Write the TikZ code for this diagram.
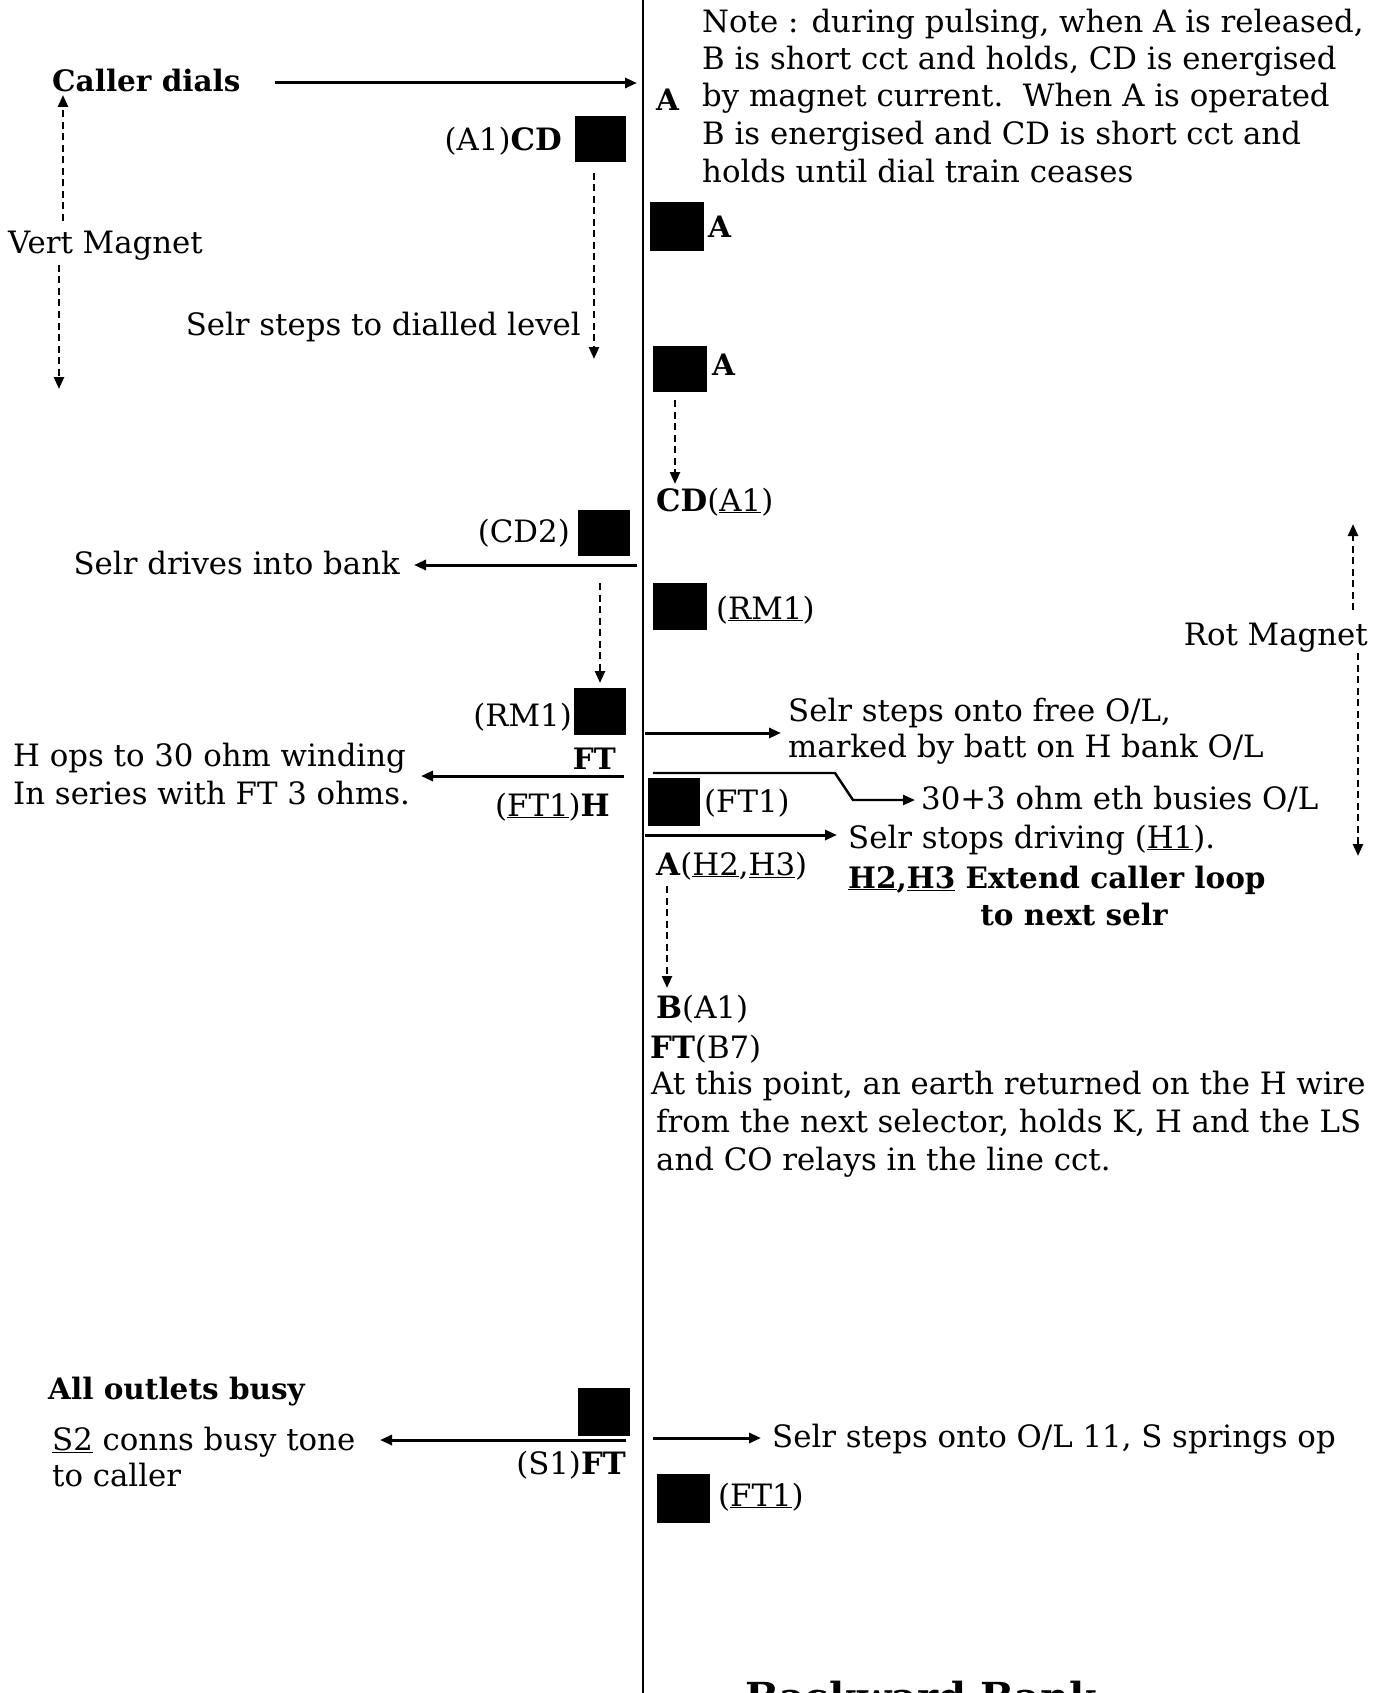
\documentclass[tikz,border=0pt]{standalone}
\usepackage{fontspec}
\setmainfont{DejaVu Serif}
\usetikzlibrary{arrows.meta}
\newcommand{\fs}{\fontsize{30.8}{37.5}\selectfont}
\newcommand{\fsb}{\fontsize{29.5}{37.5}\selectfont\bfseries}
\tikzset{
  relay/.style={fill=black,draw=none},
  txt/.style={inner sep=0pt,font=\fs},
  btxt/.style={inner sep=0pt,font=\fsb},
  conn/.style={line width=3pt,-{Triangle[length=12pt,width=10pt]}},
  dconn/.style={line width=2.4pt,dash pattern=on 7pt off 4.5pt,-{Triangle[length=12pt,width=10pt]}},
}
\begin{document}
\begin{tikzpicture}[x=1pt,y=-1pt]
\useasboundingbox (0,0) rectangle (1389,1693);
\clip (0,0) rectangle (1389,1693);
\fill[white] (0,0) rectangle (1389,1693);
% main vertical line
\coordinate (vtop) at (643,0);
\coordinate (vbot) at (643,1693);
\draw[line width=2.8pt] (vtop) -- (vbot);

% ---- top ----
\node[btxt,anchor=base west] (caller) at (52,92) {Caller dials};
\coordinate (c1s) at (275,83); \coordinate (c1e) at (637,83);
\draw[conn] (c1s) -- (c1e);
\node[btxt,anchor=base west] (aop) at (656,111) {A};
\node[txt,anchor=base west] (note1) at (702,33) {Note : during pulsing, when A is released,};
\node[txt,anchor=base west] (note2) at (702,70) {B is short cct and holds, CD is energised};
\node[txt,anchor=base west] (note3) at (702,107) {by magnet current.\ \ When A is operated};
\node[txt,anchor=base west] (note4) at (702,145) {B is energised and CD is short cct and};
\node[txt,anchor=base west] (note5) at (702,183) {holds until dial train ceases};

\node[txt,anchor=base east] (a1cd) at (562,151) {(A1)\textbf{CD}};
\path[relay] (575,116) rectangle (626,162) node[midway] (cdbox) {};
\coordinate (d1s) at (594,173); \coordinate (d1e) at (594,359);
\draw[dconn] (d1s) -- (d1e);
\node[txt,anchor=base east] (steps) at (581,335) {Selr steps to dialled level};

\node[txt,anchor=base west] (vert) at (8,254) {Vert Magnet};
\coordinate (vm1s) at (63,221); \coordinate (vm1e) at (63,95);
\coordinate (vm2s) at (59,265); \coordinate (vm2e) at (59,389);
\draw[dconn] (vm1s) -- (vm1e);
\draw[dconn] (vm2s) -- (vm2e);

\path[relay] (650,202) rectangle (704,251) node[midway] (abox1) {};
\node[btxt,anchor=base west] (alab1) at (708,238) {A};
\path[relay] (653,346) rectangle (707,392) node[midway] (abox2) {};
\node[btxt,anchor=base west] (alab2) at (712,375) {A};
\coordinate (d2s) at (675,400); \coordinate (d2e) at (675,484);
\draw[dconn] (d2s) -- (d2e);
\node[txt,anchor=base west] (cda1) at (656,511) {\textbf{CD}(\underline{A1})};

% ---- middle left ----
\path[relay] (578,510) rectangle (630,556) node[midway] (cd2box) {};
\node[txt,anchor=base east] (cd2) at (570,542) {(CD2)};
\coordinate (a3s) at (637,565); \coordinate (a3e) at (414,565);
\draw[conn] (a3s) -- (a3e);
\node[txt,anchor=base east] (drives) at (400,574) {Selr drives into bank};
\coordinate (d3s) at (600,583); \coordinate (d3e) at (600,683);
\draw[dconn] (d3s) -- (d3e);
\path[relay] (574,688) rectangle (626,735) node[midway] (rm1box) {};
\node[txt,anchor=base east] (rm1l) at (572,726) {(RM1)};
\node[btxt,anchor=base east] (ftl) at (616,769) {FT};
\coordinate (a4s) at (624,776); \coordinate (a4e) at (421,776);
\draw[conn] (a4s) -- (a4e);
\node[txt,anchor=base west] (hops1) at (13,766) {H ops to 30 ohm winding};
\node[txt,anchor=base west] (hops2) at (13,804) {In series with FT 3 ohms.};
\node[txt,anchor=base east] (ft1h) at (610,816) {(\underline{FT1})\textbf{H}};

% ---- middle right ----
\path[relay] (653,583) rectangle (707,630) node[midway] (rm1rbox) {};
\node[txt,anchor=base west] (rm1r) at (716,619) {(\underline{RM1})};
\node[txt,anchor=base east] (rot) at (1368,645) {Rot Magnet};
\coordinate (rm1s) at (1353,610); \coordinate (rm1e) at (1353,524);
\coordinate (rm2s) at (1358,653); \coordinate (rm2e) at (1358,856);
\draw[dconn] (rm1s) -- (rm1e);
\draw[dconn] (rm2s) -- (rm2e);
\coordinate (a5s) at (645,733); \coordinate (a5e) at (781,733);
\draw[conn] (a5s) -- (a5e);
\node[txt,anchor=base west] (free1) at (788,721) {Selr steps onto free O/L,};
\node[txt,anchor=base west] (free2) at (788,757) {marked by batt on H bank O/L};
\coordinate (b1) at (653,773); \coordinate (b2) at (835,773);
\coordinate (b3) at (853,800); \coordinate (b4) at (915,800);
\draw[line width=2.4pt,-{Triangle[length=12pt,width=10pt]}] (b1) -- (b2) -- (b3) -- (b4);
\node[txt,anchor=base west] (busies) at (921,809) {30+3 ohm eth busies O/L};
\path[relay] (648,778) rectangle (700,826) node[midway] (ft1rbox) {};
\node[txt,anchor=base west] (ft1r) at (704,812) {(FT1)};
\coordinate (a6s) at (645,835); \coordinate (a6e) at (837,835);
\draw[conn] (a6s) -- (a6e);
\node[txt,anchor=base west] (stops) at (848,848) {Selr stops driving (\underline{H1}).};
\node[txt,anchor=base west] (ah23) at (656,875) {\textbf{A}(\underline{H2},\underline{H3})};
\node[btxt,anchor=base west] (ext1) at (848,888) {\underline{H2},\underline{H3} Extend caller loop};
\node[btxt,anchor=base] (ext2) at (1074,925) {to next selr};
\coordinate (d4s) at (667,886); \coordinate (d4e) at (667,988);
\draw[dconn] (d4s) -- (d4e);
\node[txt,anchor=base west] (ba1) at (656,1018) {\textbf{B}(A1)};
\node[txt,anchor=base west] (ftb7) at (650,1058) {\textbf{FT}(B7)};
\node[txt,anchor=base west] (pt1) at (651,1094) {At this point, an earth returned on the H wire};
\node[txt,anchor=base west] (pt2) at (656,1132) {from the next selector, holds K, H and the LS};
\node[txt,anchor=base west] (pt3) at (656,1170) {and CO relays in the line cct.};

% ---- bottom ----
\node[btxt,anchor=base west] (allbusy) at (48,1399) {All outlets busy};
\path[relay] (578,1388) rectangle (630,1436) node[midway] (ftbox) {};
\coordinate (a7s) at (626,1440); \coordinate (a7e) at (380,1440);
\draw[conn] (a7s) -- (a7e);
\node[txt,anchor=base west] (busy1) at (52,1450) {\underline{S2} conns busy tone};
\node[txt,anchor=base west] (busy2) at (52,1486) {to caller};
\node[txt,anchor=base east] (s1ft) at (626,1474) {(S1)\textbf{FT}};
\coordinate (a8s) at (653,1438); \coordinate (a8e) at (761,1438);
\draw[conn] (a8s) -- (a8e);
\node[txt,anchor=base west] (ol11) at (772,1447) {Selr steps onto O/L 11, S springs op};
\path[relay] (657,1474) rectangle (710,1523) node[midway] (ft1box2) {};
\node[txt,anchor=base west] (ft1b) at (718,1506) {(\underline{FT1})};

\node[inner sep=0pt,anchor=base west,font=\fontsize{40}{48}\selectfont\bfseries] (title) at (745,1711) {Backward Bank};
\end{tikzpicture}
\end{document}
